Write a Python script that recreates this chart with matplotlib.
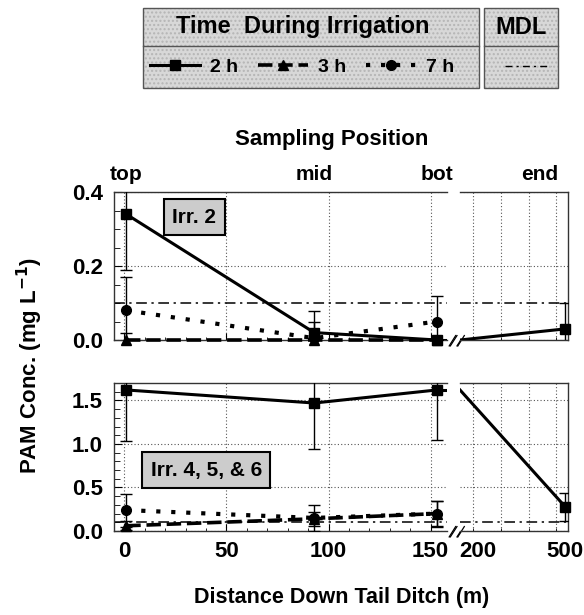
import numpy as np
import matplotlib
matplotlib.use('Agg')
import matplotlib.pyplot as plt
from matplotlib.patches import Rectangle
from matplotlib.lines import Line2D

plt.rcParams['font.family'] = ['Liberation Sans', 'DejaVu Sans']
plt.rcParams['font.weight'] = 'bold'

# sampling positions (m) and the end of the ditch
pos = [1, 93, 153]
pos_names = ['top', 'mid', 'bot']
end_x = 500
mdl = 0.1

# Irr. 2
irr2_2h = [0.34, 0.02, 0.0]
irr2_2h_err = [0.15, 0.03, 0.0]
irr2_2h_end = 0.03
irr2_2h_end_err = 0.07
irr2_3h = [0.0, 0.0, 0.0]
irr2_3h_err = [0.02, 0.0, 0.0]
irr2_7h = [0.08, 0.005, 0.05]
irr2_7h_err = [0.09, 0.073, 0.07]

# Irr. 4, 5, & 6
irr456_2h = [1.62, 1.47, 1.62]
irr456_2h_err = [0.59, 0.53, 0.57]
irr456_2h_end = 0.28
irr456_2h_end_err = 0.16
irr456_3h = [0.06, 0.14, 0.2]
irr456_3h_err = [0.05, 0.08, 0.14]
irr456_7h = [0.24, 0.15, 0.2]
irr456_7h_err = [0.19, 0.15, 0.15]

styles = {
    '2h': dict(color='black', lw=2.2, ls='-', marker='s', ms=7),
    '3h': dict(color='black', lw=2.6, ls=(0, (4, 1.6)), marker='^', ms=7),
    '7h': dict(color='black', lw=3.0, ls=(0, (1, 2.6)), marker='o', ms=7, dash_capstyle='butt'),
}

fig = plt.figure(figsize=(5.84, 6.15), dpi=100)
W, H = 584, 615


def px_axes(x0, x1, y0, y1):
    return fig.add_axes([x0 / W, 1 - y1 / H, (x1 - x0) / W, (y1 - y0) / H])


ax_tl = px_axes(114, 447, 192, 340)
ax_tr = px_axes(460, 568, 192, 340)
ax_bl = px_axes(114, 447, 383, 531)
ax_br = px_axes(460, 568, 383, 531)

left_lim = (-5, 158)
right_lim = (140, 510)


def draw_panel(axl, axr, v2, e2, v2end, e2end, v3, e3, v7, e7, ymax, label, lab_xy):
    for vals, errs, key in [(v3, e3, '3h'), (v7, e7, '7h'), (v2, e2, '2h')]:
        st = styles[key]
        axl.errorbar(pos, vals, yerr=errs, fmt='none', ecolor='black', elinewidth=1,
                     capsize=4, capthick=1, zorder=3)
        axl.plot(pos, vals, color=st['color'], lw=st['lw'], ls=st['ls'], marker=st['marker'],
                 ms=st['ms'], zorder=4, solid_capstyle='butt',
                 dash_capstyle='butt', clip_on=False)
    # 2 h line continues to the end of the ditch
    axl.plot([pos[-1], left_lim[1]], [v2[-1], v2[-1]], color='black', lw=2.2, zorder=4)
    axr.plot([right_lim[0], end_x], [v2[-1], v2end], color='black', lw=2.2, zorder=4)
    axr.errorbar([end_x], [v2end], yerr=[e2end], fmt='none', ecolor='black',
                 elinewidth=1, capsize=4, zorder=3)
    axr.plot([end_x], [v2end], 's', color='black', ms=7, zorder=4, clip_on=False)

    for ax in (axl, axr):
        ax.axhline(mdl, color='black', lw=1.1, ls=(0, (7, 3, 1.5, 3)), zorder=2)
        ax.set_ylim(0, ymax)
        ax.tick_params(axis='both', which='both', direction='in', labelsize=16)
        ax.grid(True, which='major', color='#555555', ls=(0, (1, 2)), lw=0.8)
        for s in ax.spines.values():
            s.set_linewidth(1.0)
            s.set_color('#333333')

    axl.set_xlim(*left_lim)
    axr.set_xlim(*right_lim)
    axl.spines['right'].set_visible(False)
    axr.spines['left'].set_visible(False)
    axr.tick_params(axis='y', which='both', left=False, labelleft=False)
    axl.set_xticks([0, 50, 100, 150])
    axl.set_xticks(np.arange(0, 158, 10), minor=True)
    axr.set_xticks([200, 500])
    axr.set_xticks([185, 280, 375, 470], minor=True)
    axr.grid(True, which='minor', axis='x', color='#555555', ls=(0, (1, 2)), lw=0.8)
    axr.grid(False, which='major', axis='x')
    axl.tick_params(axis='x', which='major', length=5, pad=7)
    axr.tick_params(axis='x', which='major', length=0, pad=7)
    axl.tick_params(axis='y', which='major', length=6, pad=8)
    axl.tick_params(axis='y', which='minor', length=4)

    # break marks
    kw = dict(color='black', lw=0.9, clip_on=False)
    for xo in (1.01, 1.03):
        axl.plot([xo, xo + 0.02], [-0.04, 0.03], transform=axl.transAxes, **kw)
    for xo in (-0.10, -0.02):
        axr.plot([xo, xo + 0.06], [-0.04, 0.03], transform=axr.transAxes, **kw)

    axl.text(lab_xy[0], lab_xy[1], label, transform=axl.transAxes, fontsize=15,
             fontweight='bold', ha='left', va='center', zorder=6,
             bbox=dict(boxstyle='square,pad=0.4', facecolor='#cccccc',
                       edgecolor='black', lw=1.5))


draw_panel(ax_tl, ax_tr, irr2_2h, irr2_2h_err, irr2_2h_end, irr2_2h_end_err,
           irr2_3h, irr2_3h_err, irr2_7h, irr2_7h_err, 0.4, 'Irr. 2', (0.175, 0.83))
draw_panel(ax_bl, ax_br, irr456_2h, irr456_2h_err, irr456_2h_end, irr456_2h_end_err,
           irr456_3h, irr456_3h_err, irr456_7h, irr456_7h_err, 1.7, 'Irr. 4, 5, & 6',
           (0.11, 0.41))

ax_tl.set_yticks([0.0, 0.2, 0.4])
ax_tl.set_yticklabels(['0.0', '0.2', '0.4'])
ax_tl.set_yticks(np.arange(0, 0.41, 0.05), minor=True)
ax_tr.set_yticks([0.0, 0.2, 0.4])
ax_bl.set_yticks([0.0, 0.5, 1.0, 1.5])
ax_bl.set_yticklabels(['0.0', '0.5', '1.0', '1.5'])
ax_bl.set_yticks(np.arange(0, 1.71, 0.1), minor=True)
ax_br.set_yticks([0.0, 0.5, 1.0, 1.5])
for ax in (ax_tl, ax_tr):
    ax.tick_params(axis='x', which='both', labelbottom=False)

# sampling position labels on top
sec = ax_tl.secondary_xaxis('top')
sec.set_xticks(pos)
sec.set_xticklabels(pos_names)
sec.tick_params(length=0, labelsize=15, pad=6)
sec.spines['top'].set_visible(False)
sec2 = ax_tr.secondary_xaxis('top')
sec2.set_xticks([412])
sec2.set_xticklabels(['end'])
sec2.tick_params(length=0, labelsize=15, pad=6)
sec2.spines['top'].set_visible(False)

fig.text(332 / W, 1 - 140 / H, 'Sampling Position', ha='center', va='center',
         fontsize=16, fontweight='bold')
fig.text(342 / W, 1 - 598 / H, 'Distance Down Tail Ditch (m)', ha='center', va='center',
         fontsize=15.5, fontweight='bold')
fig.text(30 / W, 1 - 365 / H, 'PAM Conc. (mg L$^{\\mathbf{-1}}$)', ha='center', va='center',
         rotation=90, fontsize=16, fontweight='bold')


# legend boxes
def box(x0, x1, y0, y1):
    fig.add_artist(Rectangle((x0 / W, 1 - y1 / H), (x1 - x0) / W, (y1 - y0) / H,
                             transform=fig.transFigure, facecolor='#d8d8d8',
                             edgecolor='#b5b5b5', hatch='....', lw=0, zorder=0))
    fig.add_artist(Rectangle((x0 / W, 1 - y1 / H), (x1 - x0) / W, (y1 - y0) / H,
                             transform=fig.transFigure, facecolor='none',
                             edgecolor='#555555', lw=1.0, zorder=1))
    fig.add_artist(Line2D([x0 / W, x1 / W], [1 - 46 / H, 1 - 46 / H],
                          transform=fig.transFigure, color='#555555', lw=1.0))


box(143, 479, 8, 88)
box(484, 558, 8, 88)
fig.text(303 / W, 1 - 27 / H, 'Time  During Irrigation', ha='center', va='center',
         fontsize=17, fontweight='bold')
fig.text(521 / W, 1 - 27 / H, 'MDL', ha='center', va='center',
         fontsize=17, fontweight='bold')

handles = [Line2D([], [], **styles[k]) for k in ('2h', '3h', '7h')]
leg = fig.legend(handles, ['2 h', '3 h', '7 h'], ncol=3, frameon=False,
                 loc='center', bbox_to_anchor=(302 / W, 1 - 67 / H), fontsize=14,
                 handlelength=2.6, columnspacing=1.0, handletextpad=0.5)
mdl_handle = Line2D([], [], color='black', lw=1.0, ls=(0, (5, 3, 1.5, 3)))
fig.legend([mdl_handle], [''], frameon=False, loc='center',
           bbox_to_anchor=(528 / W, 1 - 67 / H), handlelength=3.3, handletextpad=0)

fig.savefig('out.png', dpi=100)
